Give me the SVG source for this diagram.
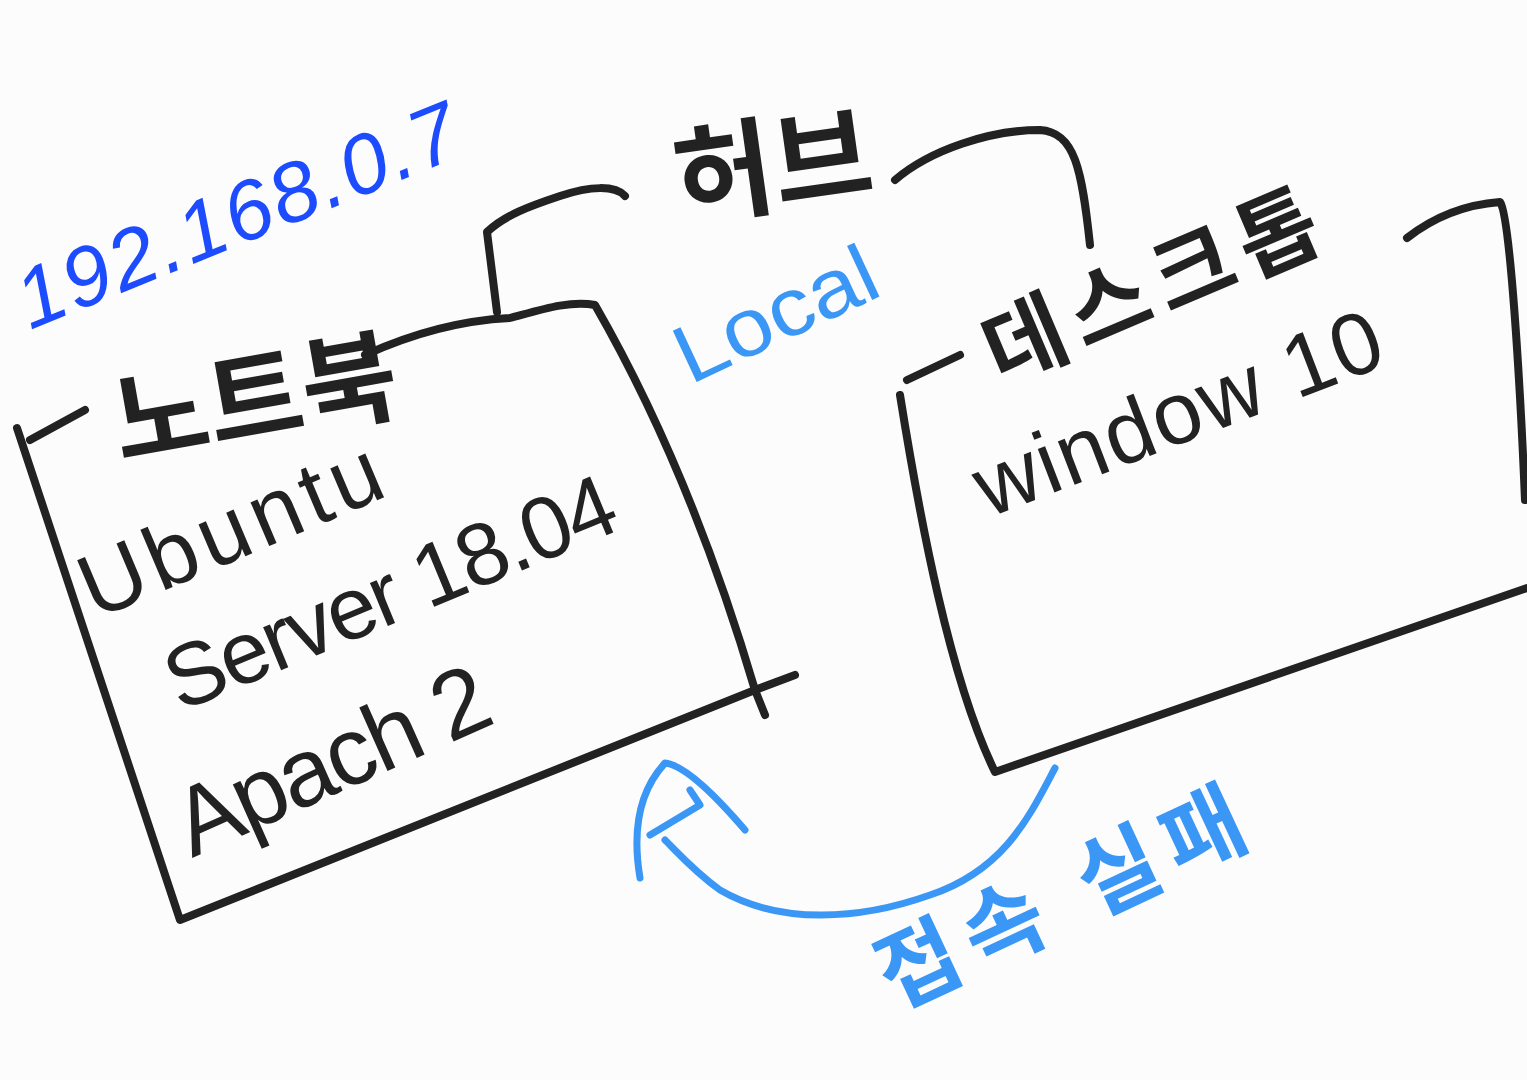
<svg xmlns="http://www.w3.org/2000/svg" width="1527" height="1080" viewBox="0 0 1527 1080">
<style>
.ink{fill:none;stroke:#222;stroke-width:8;stroke-linecap:round;stroke-linejoin:round}
.blue{fill:none;stroke:#3a97f5;stroke-width:7;stroke-linecap:round;stroke-linejoin:round}
.t{font-family:"Liberation Sans","Noto Sans CJK KR",sans-serif;fill:#222}
.k{font-family:"Noto Sans CJK KR","Liberation Sans",sans-serif;fill:#222;font-weight:700}
.b1{fill:#1d4cff}
.b2{fill:#3a97f5}
</style>
<rect width="1527" height="1080" fill="#fcfcfc"/>
<g id="connectors">
  <path class="ink" d="M625,196 C615,185 590,186 560,196 C530,206 505,215 487,232 L497,312"/>
  <path class="ink" d="M895,180 C930,150 990,130 1040,130 C1075,132 1082,170 1090,245"/>
  <path class="blue" d="M1055,768 C1030,815 1005,870 930,895 C860,920 780,925 720,890 C695,872 680,855 665,840"/>
  <path class="blue" d="M640,878 C632,830 640,790 665,763 C685,765 715,795 745,830" stroke-width="5"/>
  <path class="blue" d="M650,835 L700,805 L690,790" stroke-width="11"/>
</g>
<g id="ip-label">
  <text class="t b1" x="30" y="330" font-size="84" textLength="470" lengthAdjust="spacing" transform="rotate(-22 30 330)" font-style="italic">192.168.0.7</text>
</g>
<g id="hub">
  <text class="k" x="680" y="218" font-size="108" transform="rotate(-8 680 218)">허브</text>
</g>
<g id="local-label">
  <text class="t b2" x="690" y="385" font-size="82" textLength="215" lengthAdjust="spacingAndGlyphs" transform="rotate(-25 690 385)">Local</text>
</g>
<g id="notebook">
  <path class="ink" d="M30,440 L85,410"/>
  <path class="ink" d="M17,428 L180,920 L755,690 L795,675"/>
  <path class="ink" d="M365,355 C420,330 470,320 510,318 C540,310 570,300 595,305 Q690,470 755,690 L765,715"/>
  <text class="k" x="120" y="460" font-size="104" transform="rotate(-10 120 460)">노트북</text>
  <text class="t" x="95" y="620" font-size="90" textLength="320" lengthAdjust="spacing" transform="rotate(-23 95 620)">Ubuntu</text>
  <text class="t" x="180" y="712" font-size="88" textLength="480" lengthAdjust="spacing" transform="rotate(-22.5 180 712)">Server 18.04</text>
  <text class="t" x="192" y="858" font-size="96" textLength="335" lengthAdjust="spacing" transform="rotate(-24 192 858)">Apach 2</text>
</g>
<g id="desktop">
  <path class="ink" d="M907,380 L960,355"/>
  <path class="ink" d="M900,395 C920,520 950,680 995,772 L1527,588"/>
  <path class="ink" d="M1407,238 C1430,220 1460,205 1500,202 C1510,215 1520,380 1525,500"/>
  <text class="k" x="1000" y="385" font-size="88" textLength="355" lengthAdjust="spacing" transform="rotate(-23 1000 385)">데스크톱</text>
  <text class="t" x="988" y="518" font-size="88" textLength="430" lengthAdjust="spacing" transform="rotate(-21 988 518)">window 10</text>
</g>
<g id="fail-label">
  <text class="k b2" x="895" y="1010" font-size="88" textLength="395" lengthAdjust="spacing" transform="rotate(-25 895 1010)">접속 실패</text>
</g>
</svg>
